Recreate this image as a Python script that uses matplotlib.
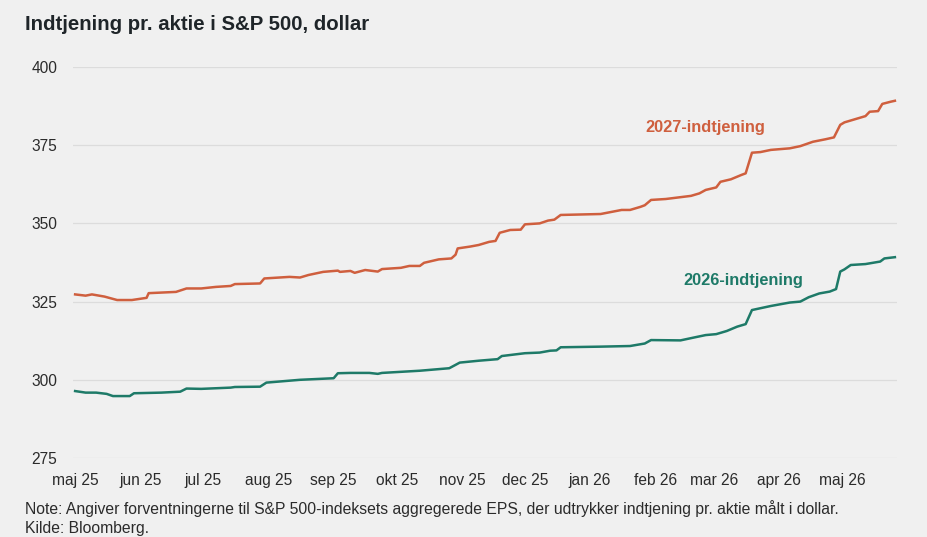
import matplotlib
matplotlib.use("Agg")
import matplotlib.pyplot as plt
import pandas as pd

# ---- data ----
dates_2027 = ["2025-05-01","2025-05-06","2025-05-09","2025-05-15","2025-05-21","2025-05-28","2025-05-30",
              "2025-06-04","2025-06-05","2025-06-18","2025-06-23","2025-06-30","2025-07-07","2025-07-14",
              "2025-07-16","2025-07-28","2025-07-30","2025-08-11","2025-08-16","2025-08-20","2025-08-27",
              "2025-09-03","2025-09-04","2025-09-09","2025-09-11","2025-09-16","2025-09-22","2025-09-24",
              "2025-10-03","2025-10-07","2025-10-12","2025-10-14","2025-10-21","2025-10-27","2025-10-29",
              "2025-10-30","2025-11-05","2025-11-09","2025-11-14","2025-11-17","2025-11-19","2025-11-24",
              "2025-11-29","2025-12-01","2025-12-08","2025-12-12","2025-12-15","2025-12-18","2026-01-06",
              "2026-01-16","2026-01-20","2026-01-25","2026-01-27","2026-01-30","2026-02-06","2026-02-18",
              "2026-02-22","2026-02-25","2026-03-02","2026-03-04","2026-03-09","2026-03-14","2026-03-16",
              "2026-03-19","2026-03-23","2026-03-28","2026-04-06","2026-04-11","2026-04-17","2026-04-23",
              "2026-04-27","2026-04-30","2026-05-02","2026-05-07","2026-05-12","2026-05-14","2026-05-18",
              "2026-05-20","2026-05-24","2026-05-26"]
eps_2027 = [327.3,326.9,327.3,326.6,325.5,325.5,325.7,
            326.2,327.7,328.1,329.2,329.2,329.7,330.0,
            330.6,330.8,332.4,332.9,332.7,333.5,334.5,
            334.9,334.5,334.8,334.2,335.1,334.6,335.4,
            335.8,336.4,336.4,337.4,338.5,338.8,340.0,
            342.0,342.6,343.1,344.1,344.4,347.0,347.9,
            348.0,349.7,350.0,350.9,351.2,352.7,353.0,
            354.3,354.3,355.3,355.8,357.5,357.8,358.8,
            359.6,360.7,361.5,363.3,364.1,365.5,366.0,
            372.6,372.8,373.5,374.0,374.7,376.1,376.9,
            377.5,381.5,382.3,383.3,384.3,385.7,385.9,
            388.2,388.9,389.2]

dates_2026 = ["2025-05-01","2025-05-06","2025-05-11","2025-05-16","2025-05-19","2025-05-27","2025-05-29",
              "2025-06-11","2025-06-20","2025-06-23","2025-06-30","2025-07-14","2025-07-16","2025-07-28",
              "2025-07-31","2025-08-16","2025-09-01","2025-09-03","2025-09-09","2025-09-18","2025-09-22",
              "2025-09-24","2025-10-12","2025-10-26","2025-10-31","2025-11-09","2025-11-18","2025-11-20",
              "2025-12-01","2025-12-08","2025-12-13","2025-12-16","2025-12-18","2026-01-06","2026-01-20",
              "2026-01-27","2026-01-30","2026-02-13","2026-02-20","2026-02-25","2026-03-02","2026-03-07",
              "2026-03-12","2026-03-16","2026-03-19","2026-03-28","2026-04-06","2026-04-11","2026-04-15",
              "2026-04-20","2026-04-25","2026-04-28","2026-04-30","2026-05-02","2026-05-05","2026-05-12",
              "2026-05-19","2026-05-21","2026-05-26"]
eps_2026 = [296.4,295.9,295.9,295.5,294.8,294.8,295.7,
            295.9,296.2,297.2,297.1,297.5,297.7,297.8,
            299.1,300.0,300.5,302.1,302.2,302.2,301.9,
            302.2,302.9,303.7,305.5,306.1,306.6,307.6,
            308.5,308.7,309.3,309.4,310.4,310.6,310.8,
            311.6,312.7,312.6,313.6,314.3,314.6,315.6,
            317.0,317.8,322.3,323.6,324.7,325.0,326.4,
            327.6,328.2,329.0,334.6,335.3,336.7,337.0,
            337.8,338.8,339.2]

month_ticks = pd.date_range("2025-05-01", periods=13, freq="MS")
month_labels = ["maj 25", "jun 25", "jul 25", "aug 25", "sep 25", "okt 25", "nov 25",
                "dec 25", "jan 26", "feb 26", "mar 26", "apr 26", "maj 26"]
y_ticks = [275, 300, 325, 350, 375, 400]

title = "Indtjening pr. aktie i S&P 500, dollar"
label_2027 = "2027-indtjening"
label_2026 = "2026-indtjening"
note = ("Note: Angiver forventningerne til S&P 500-indeksets aggregerede EPS, "
        "der udtrykker indtjening pr. aktie målt i dollar.")
source = "Kilde: Bloomberg."

# ---- style ----
plt.rcParams["font.family"] = ["Liberation Sans", "DejaVu Sans"]
BG = "#f0f0f0"
ORANGE = "#cf5f3e"
GREEN = "#1e7a68"
TXT = "#2b2b2b"

W, H = 928, 537
fig = plt.figure(figsize=(W / 100, H / 100), dpi=100, facecolor=BG)
ax = fig.add_axes([73 / W, 1 - 458 / H, (897 - 73) / W, (458 - 67) / H], facecolor=BG)

ax.plot(pd.to_datetime(dates_2027), eps_2027, color=ORANGE, lw=1.8, solid_joinstyle="round")
ax.plot(pd.to_datetime(dates_2026), eps_2026, color=GREEN, lw=1.8, solid_joinstyle="round")

ax.set_ylim(275, 400)
ax.set_xlim(pd.Timestamp("2025-04-30"), pd.Timestamp("2026-05-27"))
ax.set_yticks(y_ticks)
ax.set_yticklabels([str(v) for v in y_ticks])
ax.set_xticks(month_ticks)
ax.set_xticklabels(month_labels)
ax.tick_params(axis="both", length=0, labelsize=11.2, colors=TXT)
ax.tick_params(axis="y", pad=11.5)
ax.tick_params(axis="x", pad=10.5)
for lab in ax.get_yticklabels():
    lab.set_horizontalalignment("right")
ax.grid(axis="y", color="#dcdcdc", lw=0.9)
ax.grid(axis="x", visible=False)
for s in ax.spines.values():
    s.set_visible(False)
ax.set_axisbelow(True)

ax.text(pd.Timestamp("2026-02-25"), 380.6, label_2027, color=ORANGE, fontsize=11.8,
        fontweight="bold", ha="center", va="center")
ax.text(pd.Timestamp("2026-03-15"), 331.9, label_2026, color=GREEN, fontsize=11.8,
        fontweight="bold", ha="center", va="center")

fig.text(25 / W, 1 - 24 / H, title, fontsize=14.7, fontweight="bold", color="#1f2529",
         ha="left", va="center")
fig.text(25 / W, 1 - 509 / H, note, fontsize=11.3, color=TXT, ha="left", va="center")
fig.text(25 / W, 1 - 528 / H, source, fontsize=11.3, color=TXT, ha="left", va="center")

fig.savefig("out.png", dpi=100, facecolor=BG)
